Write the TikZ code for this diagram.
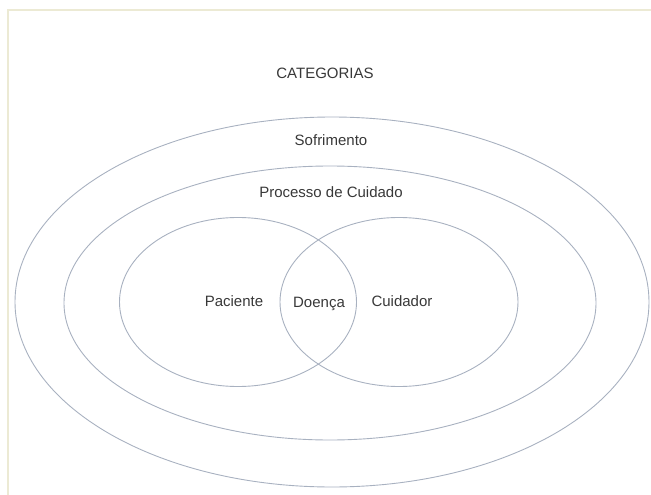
\documentclass[tikz,border=0pt]{standalone}
\usepackage{fontspec}
\setmainfont{Liberation Sans}
\usetikzlibrary{shapes.geometric}
\definecolor{ringgray}{HTML}{A8B1C0}
\definecolor{wordgray}{HTML}{383838}
\definecolor{framebeige}{HTML}{ECEAD4}

\begin{document}
\begin{tikzpicture}[x=1pt, y=-1pt,
  ring/.style = {draw=ringgray, line width=0.9pt, ellipse, inner sep=0pt},
  word/.style = {text=wordgray, font=\fontsize{15}{17}\selectfont, inner sep=0pt, text height=11pt, text depth=3pt}]
\useasboundingbox (0,0) rectangle (651,495);
\draw[framebeige, line width=1.5pt] (8,495) -- (8,10) -- (651,10);
% ellipses
\node[ring, minimum width=634pt, minimum height=370pt] (sofrimento) at (332,302) {};
\node[ring, minimum width=532pt, minimum height=274pt] (processo) at (330,303) {};
\node[ring, minimum width=237pt, minimum height=169pt] (paciente) at (238,302) {};
\node[ring, minimum width=238pt, minimum height=169pt] (cuidador) at (399,302) {};
% texts
\node[word] (cat) at (325,74) {CATEGORIAS};
\node[word] (sof) at (331,141) {Sofrimento};
\node[word] (proc) at (331,193) {Processo de Cuidado};
\node[word] (pac) at (234,302) {Paciente};
\node[word] (doe) at (319,303) {Doença};
\node[word] (cui) at (402,302) {Cuidador};
\end{tikzpicture}
\end{document}
